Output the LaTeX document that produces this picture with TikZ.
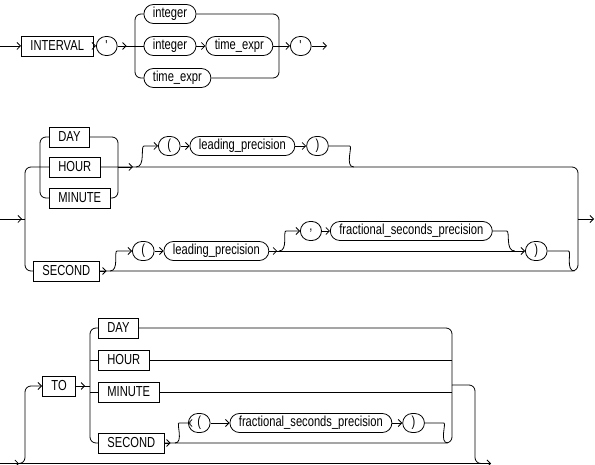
\documentclass[tikz,border=0pt]{standalone}
\usepackage{fontspec}
\setmainfont[FakeStretch=0.77]{Liberation Sans}
\usetikzlibrary{arrows.meta, positioning}

\begin{document}
\begin{tikzpicture}[x=1pt, y=-1pt,
		line width=0.8pt, rounded corners=6pt,
		every node/.style={draw, inner xsep=9pt, inner ysep=0pt,
			font=\fontsize{14.5}{16}\selectfont},
		kw/.style={rectangle, sharp corners, minimum height=20pt},
		term/.style={rectangle, rounded corners=9.5pt, minimum height=19pt, minimum width=20pt},
		tip/.style={-{Straight Barb[length=3.5pt, width=7pt]}}]
	\useasboundingbox (0,0) rectangle (595,465);
	% INTERVAL ' ... '
	\coordinate (s1) at (0,46);
	\coordinate (b1) at (135,46);
	\coordinate (j1) at (279,46);
	\coordinate (e1) at (327,46);
	\node[kw, anchor=west]   (interval) at (21,46)    {INTERVAL};
	\node[term, anchor=west] (q1)       at (96,46)    {\textquotesingle};
	\node[term, anchor=west] (int1)     at (143.5,14) {integer};
	\node[term, anchor=west] (int2)     at (143.5,46) {integer};
	\node[term, right=9pt of int2] (tex1) {time\_expr};
	\node[term, anchor=west] (tex2)     at (143.5,78) {time\_expr};
	\node[term, anchor=west] (q2)       at (290,46)   {\textquotesingle};
	\draw[tip] (s1) -- (interval);
	\draw[tip] (interval) -- (q1);
	\draw[tip] (q1.east) -- ++(9,0);
	\draw (q1) -- (b1);
	\draw (b1) |- (int1);
	\draw (b1) -- (int2);
	\draw (b1) |- (tex2);
	\draw[tip] (int2) -- (tex1);
	\draw (int1) -| (j1);
	\draw (tex2) -| (j1);
	\draw (tex1) -- (j1);
	\draw[tip] (j1) -- (q2);
	\draw[tip] (q2) -- (e1);

	% DAY | HOUR | MINUTE | SECOND
	\coordinate (s2) at (0,219);
	\coordinate (b2) at (25,219);
	\coordinate (b3) at (40,167);
	\coordinate (j3) at (118,167);
	\coordinate (b4) at (136,167);
	\coordinate (r2) at (578,219);
	\coordinate (e2) at (594,219);
	\node[kw, anchor=west] (day1)  at (49,137) {DAY};
	\node[kw, anchor=west] (hour1) at (49,167) {HOUR};
	\node[kw, anchor=west] (min1)  at (49,198) {MINUTE};
	\node[kw, anchor=west] (sec1)  at (33,271) {SECOND};
	\node[term, anchor=west] (op1) at (158,146) {(};
	\node[term, right=9pt of op1] (lp1) {leading\_precision};
	\node[term, right=11pt of lp1] (cp1) {)};
	\node[term, anchor=west] (op2) at (132,251) {(};
	\node[term, right=9pt of op2] (lp2) {leading\_precision};
	\node[term, anchor=west] (comma) at (300,231) {,};
	\node[term, right=8pt of comma] (fsp1) {fractional\_seconds\_precision};
	\node[term, anchor=west] (cp2) at (525,251) {)};
	\draw[tip] (s2) -- ++(22,0);
	\draw (s2) -- (b2);
	\draw (b2) |- (hour1);
	\draw (b2) |- (sec1);
	\draw (b3) |- (day1);
	\draw (b3) |- (min1);
	\draw (day1) -| (j3);
	\draw (min1) -| (j3);
	\draw (hour1) -- (j3) -| (r2);
	\draw[tip] (j3) -- ++(15,0);
	\draw[tip] (b4) to[out=0, in=180] ++(14,-21) -- (op1);
	\draw[tip] (op1) -- (lp1);
	\draw[tip] (lp1) -- (cp1);
	\draw (cp1.east) -- ++(15,0) to[out=0, in=180] ++(10,21);
	\draw (sec1) -| (r2);
	\draw[tip] (r2) -- (e2);
	\draw[tip] (sec1.east) -- ++(7,0);
	\coordinate (b5) at (110,271);
	\draw[tip] (b5) to[out=0, in=180] ++(13,-20) -- (op2);
	\draw[tip] (op2) -- (lp2);
	\draw[tip] (lp2.east) -- ++(8,0);
	\draw[tip] (lp2) -- (cp2);
	\coordinate (b6) at (279,251);
	\draw[tip] (b6) to[out=0, in=180] ++(13,-20) -- (comma);
	\draw[tip] (comma) -- (fsp1);
	\draw (fsp1.east) -- ++(8,0) to[out=0, in=180] ++(14,20);
	\draw (cp2.east) -- ++(15,0) to[out=0, in=180] ++(12,20);

	% optional TO part
	\coordinate (s3) at (0,463.5);
	\coordinate (b7) at (19,463.5);
	\coordinate (c7) at (25,386);
	\coordinate (b8) at (90,386);
	\coordinate (r3) at (452,385);
	\coordinate (c8) at (475,463.5);
	\coordinate (e3) at (491,463.5);
	\node[kw, anchor=west] (to)    at (42,386) {TO};
	\node[kw, anchor=west] (day2)  at (98,328) {DAY};
	\node[kw, anchor=west] (hour2) at (98,360) {HOUR};
	\node[kw, anchor=west] (min2)  at (98,392) {MINUTE};
	\node[kw, anchor=west] (sec2)  at (98,443) {SECOND};
	\node[term, anchor=west] (op3) at (188,423) {(};
	\node[term, right=19pt of op3] (fsp2) {fractional\_seconds\_precision};
	\node[term, right=10pt of fsp2] (cp3) {)};
	\draw (s3) -- (e3);
	\draw[tip] (s3) -- (b7);
	\draw[tip] (b7) -| (c7) -- (to);
	\draw[tip] (to.east) -- ++(9,0);
	\draw (to) -- (b8);
	\draw (day2) -| (b8) |- (sec2);
	\draw (b8 |- hour2) -- (hour2);
	\draw (b8 |- min2) -- (min2);
	\draw (day2) -| (r3);
	\draw (hour2) -- (hour2 -| r3);
	\draw (min2) -- (min2 -| r3);
	\draw (sec2) -| (r3);
	\draw[tip] (r3) -| (c8) -- (e3);
	\draw[tip] (sec2.east) -- ++(6,0);
	\coordinate (b9) at (175,443);
	\draw[tip] (b9) to[out=0, in=180] ++(10,-20) -- (op3);
	\draw[tip] (op3) -- (fsp2);
	\draw[tip] (fsp2) -- (cp3);
	\draw (cp3.east) -- ++(13,0) to[out=0, in=180] ++(10,20);
\end{tikzpicture}
\end{document}
